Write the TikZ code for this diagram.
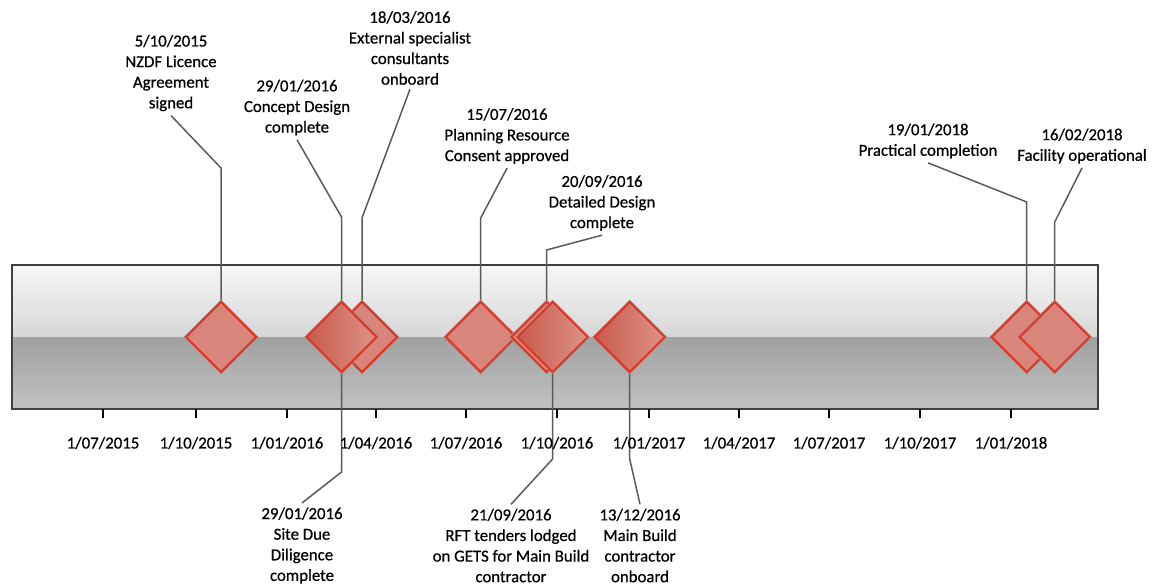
\documentclass[tikz,border=0pt]{standalone}
\usepackage{fontspec}
\setmainfont{Carlito}
\newfontfamily\lblfont[FakeBold=0.6]{Carlito}
\usetikzlibrary{shapes.geometric,backgrounds}
\definecolor{msred}{RGB}{226,52,34}
\definecolor{msfill}{RGB}{216,134,124}
\definecolor{msdark}{RGB}{200,90,76}
\definecolor{mslight}{RGB}{222,146,136}
\definecolor{leadgray}{RGB}{90,90,90}

\begin{document}
\begin{tikzpicture}[x=0.5pt,y=-0.5pt,
  mile/.style={diamond,minimum width=35.5pt,minimum height=35.5pt,inner sep=0pt,
    draw=msred,line width=1pt,fill=msfill,preaction={draw=black!40,line width=1.6pt}},
  milesh/.style={mile,left color=msdark,right color=mslight},
  lbl/.style={align=center,font=\lblfont\fontsize{8.4}{10.3}\selectfont,inner sep=2pt},
  lead/.style={draw=leadgray,line width=0.75pt}]
\useasboundingbox (0,0) rectangle (1154,587);

% milestones
\node[mile] (m1) at (221,337) {};
\node[mile] (m3) at (362,337) {};
\node[milesh] (m2) at (341.5,337) {};
\node[mile] (m4) at (480.7,337) {};
\node[mile] (m5) at (546.5,337) {};
\node[milesh] (m6) at (552.6,337) {};
\node[milesh] (m7) at (629.7,337) {};
\node[mile] (m8) at (1026.7,337) {};
\node[mile] (m9) at (1054.7,337) {};

% labels above
\node[lbl] (t1) at (171,73) {5/10/2015\\NZDF Licence\\Agreement\\signed};
\node[lbl] (t2) at (297,107.5) {29/01/2016\\Concept Design\\complete};
\node[lbl] (t3) at (410,48) {18/03/2016\\External specialist\\consultants\\onboard};
\node[lbl] (t4) at (507,136) {15/07/2016\\Planning Resource\\Consent approved};
\node[lbl] (t5) at (602,203) {20/09/2016\\Detailed Design\\complete};
\node[lbl] (t8) at (928,141) {19/01/2018\\Practical completion};
\node[lbl] (t9) at (1082,146) {16/02/2018\\Facility operational};
% labels below
\node[lbl] (b2) at (302,545.5) {29/01/2016\\Site Due\\Diligence\\complete};
\node[lbl] (b6) at (511,545.5) {21/09/2016\\RFT tenders lodged\\on GETS for Main Build\\contractor};
\node[lbl] (b7) at (640,545.5) {13/12/2016\\Main Build\\contractor\\onboard};

% axis
\foreach \x/\d [count=\i] in {103/{1/07/2015},196/{1/10/2015},287/{1/01/2016},376/{1/04/2016},
    466/{1/07/2016},557/{1/10/2016},649/{1/01/2017},739/{1/04/2017},829/{1/07/2017},
    920/{1/10/2017},1011/{1/01/2018}}{
  \draw[line width=0.9pt] (\x,409) -- (\x,418);
  \node[lbl] (q\i) at (\x,443) {\d};
}

\begin{pgfonlayer}{background}
  \shade[top color=black!3,bottom color=black!16] (12,265) rectangle (1098,337);
  \shade[top color=black!37,bottom color=black!24] (12,337) rectangle (1098,409);
  \draw[black!75,line width=1pt] (12,265) rectangle (1098,409);
  \coordinate (k1) at (221,168);
  \coordinate (k2) at (341.5,217);
  \coordinate (k3) at (362,218);
  \coordinate (k4) at (480.7,218);
  \coordinate (k5) at (546.5,250);
  \coordinate (k8) at (1026.7,202);
  \coordinate (k9) at (1054.7,222);
  \coordinate (j2) at (341.5,472);
  \coordinate (j6) at (552.6,459);
  \coordinate (j7) at (629.7,459);
  \draw[lead] (t1.south) -- (k1) -- (m1.north);
  \draw[lead] (t2.south) -- (k2) -- (m2.north);
  \draw[lead] (t3.south) -- (k3) -- (m3.north);
  \draw[lead] (t4.south) -- (k4) -- (m4.north);
  \draw[lead] (t5.south) -- (k5) -- (m5.north);
  \draw[lead] (t8.south) -- (k8) -- (m8.north);
  \draw[lead] (t9.south) -- (k9) -- (m9.north);
  \draw[lead] (b2.north) -- (j2) -- (m2.south);
  \draw[lead] (b6.north) -- (j6) -- (m6.south);
  \draw[lead] (b7.north) -- (j7) -- (m7.south);
\end{pgfonlayer}
\end{tikzpicture}
\end{document}
